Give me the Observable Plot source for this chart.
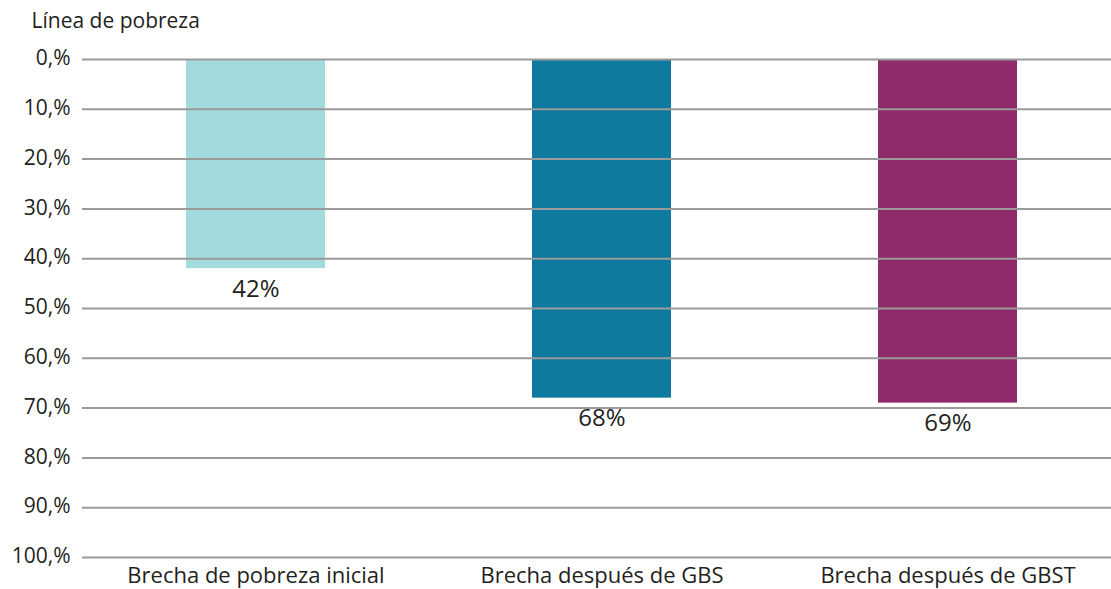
<!DOCTYPE html>
<html>
<head>
<meta charset="utf-8">
<script src="https://cdn.jsdelivr.net/npm/d3@7"></script>
<script src="https://cdn.jsdelivr.net/npm/@observablehq/plot@0.6"></script>
<style>
  html, body { margin: 0; padding: 0; background: #fff; }
  #chart { width: 1111px; height: 589px; }
</style>
</head>
<body>
<div id="chart"></div>
<script>
const categories = ["Brecha de pobreza inicial", "Brecha después de GBS", "Brecha después de GBST"];
const values = [42, 68, 69];
const colors = ["#a3dadb", "#0e7aa0", "#8f2b6b"];
const yTicks = [0, 10, 20, 30, 40, 50, 60, 70, 80, 90, 100];
const title = "Línea de pobreza";

const data = categories.map((c, i) => ({cat: c, value: values[i]}));

const chart = Plot.plot({
  width: 1111,
  height: 589,
  marginTop: 59,
  marginBottom: 32,
  marginLeft: 82,
  marginRight: 0,
  style: {fontFamily: "'Open Sans', sans-serif", color: "#231f20", background: "#fff"},
  x: {domain: categories, range: [82, 1121], paddingInner: 0.598, paddingOuter: 0.3, axis: null},
  y: {domain: [0, 100], reverse: true, axis: null},
  color: {domain: categories, range: colors},
  marks: [
    Plot.barY(data, {x: "cat", y1: 0, y2: "value", fill: "cat"}),
    Plot.ruleY(yTicks, {stroke: "#9a9a9a", strokeWidth: 2}),
    Plot.text(yTicks, {y: d => d, frameAnchor: "left", dx: -12, dy: -1, textAnchor: "end", text: d => d + ",%", fontSize: 21, fill: "#231f20"}),
    Plot.axisX({tickSize: 0, tickPadding: 10, fontSize: 22, fill: "#231f20", label: null}),
    Plot.text(data, {x: "cat", y: "value", text: d => d.value + "%", dy: 11, lineAnchor: "top", fontSize: 24, fill: "#231f20"}),
    Plot.text([title], {frameAnchor: "top-left", dx: -51, dy: -46, lineAnchor: "top", text: d => d, fontSize: 21, fill: "#231f20", textAnchor: "start"})
  ]
});
document.getElementById("chart").appendChild(chart);
</script>
</body>
</html>
